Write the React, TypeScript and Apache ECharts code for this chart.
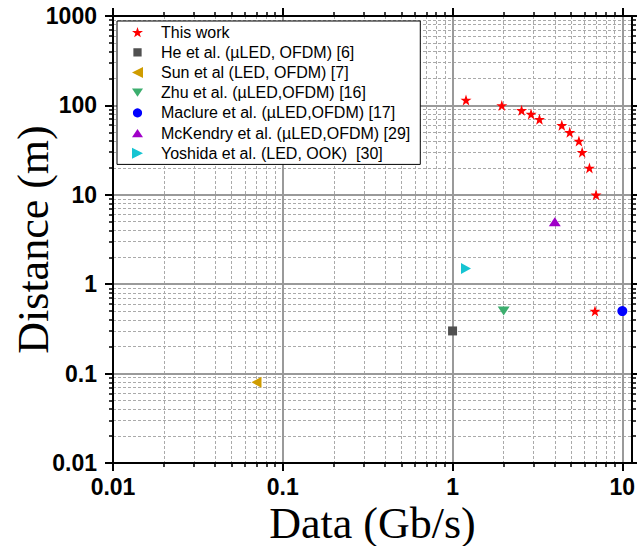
import React, { useEffect, useRef } from "react";
import * as echarts from "echarts";

// ---- data ----
const thisWorkX = [1.2, 1.95, 2.55, 2.9, 3.25, 4.4, 4.9, 5.55, 5.8, 6.4, 7.0, 6.9];
const thisWorkY = [115, 100, 88, 80, 70, 60, 50, 40, 30, 20, 10, 0.5];
const heX = [1.0];
const heY = [0.3];
const sunX = [0.07];
const sunY = [0.08];
const zhuX = [2.0];
const zhuY = [0.5];
const maclureX = [10.0];
const maclureY = [0.5];
const mckendryX = [4.0];
const mckendryY = [5.0];
const yoshidaX = [1.2];
const yoshidaY = [1.5];

const seriesNames = [
  "This work",
  "He et al. (\u00b5LED, OFDM) [6]",
  "Sun et al (LED, OFDM) [7]",
  "Zhu et al. (\u00b5LED,OFDM) [16]",
  "Maclure et al. (\u00b5LED,OFDM) [17]",
  "McKendry et al. (\u00b5LED,OFDM) [29]",
  "Yoshida et al. (LED, OOK)  [30]",
];

const xMajor = [0.01, 0.1, 1, 10];
const yMajor = [0.01, 0.1, 1, 10, 100, 1000];
const minorMultipliers = [2, 3, 4, 5, 6, 7, 8, 9];
const xMin = 0.01;
const xMax = 11.4;
const yMin = 0.01;
const yMax = 1000;

const xMinor: number[] = [];
xMajor.forEach((d) => minorMultipliers.forEach((m) => { const v = +(d * m).toPrecision(3); if (v < xMax) xMinor.push(v); }));
const yMinor: number[] = [];
yMajor.slice(0, -1).forEach((d) => minorMultipliers.forEach((m) => yMinor.push(+(d * m).toPrecision(3))));

const STAR = "path://M50,0 L61.8,35.1 L98.1,35.1 L68.8,56.7 L79.4,91 L50,70 L20.6,91 L31.2,56.7 L1.9,35.1 L38.2,35.1 Z";
const SQUARE = "path://M0,0 L10,0 L10,10 L0,10 Z";
const SQUARE_LEG = "path://M0,0 L0.01,0 Z M1.5,1.5 L10.5,1.5 L10.5,10.5 L1.5,10.5 Z M12,12 L11.99,12 Z";
const TRI_LEFT = "path://M0,5 L10,0 L10,10 Z";
const TRI_DOWN = "path://M0,0 L12,0 L6,9 Z";
const TRI_UP = "path://M6,0 L12,9 L0,9 Z";
const TRI_RIGHT = "path://M0,0 L10,5 L0,10 Z";
const CIRCLE_LEG = "path://M0,0 L0.01,0 Z M6,1 A5,5 0 1,1 5.99,1 Z M12,12 L11.99,12 Z";

const colors = ["#ff0000", "#505050", "#cf9c00", "#3cae6e", "#0000ff", "#a000c8", "#16c4d2"];
const symbols = [STAR, SQUARE, TRI_LEFT, TRI_DOWN, "circle", TRI_UP, TRI_RIGHT];
const legendIcons = [STAR, SQUARE_LEG, TRI_LEFT, TRI_DOWN, CIRCLE_LEG, TRI_UP, TRI_RIGHT];
const symbolSizes: any[] = [11, 9, [10, 11], [12, 9], 10, [12, 9], [10, 11]];
const xs = [thisWorkX, heX, sunX, zhuX, maclureX, mckendryX, yoshidaX];
const ys = [thisWorkY, heY, sunY, zhuY, maclureY, mckendryY, yoshidaY];

const fmt = (v: number) => String(+v.toPrecision(6));

export default function App() {
  const ref = useRef<HTMLDivElement>(null);
  useEffect(() => {
    if (!ref.current) return;
    const chart = echarts.init(ref.current, null, { renderer: "svg" });
    const axisLine = { show: true, onZero: false, lineStyle: { color: "#000", width: 2 } };
    const majorSplit = { show: true, lineStyle: { color: "#9a9a9a", width: 2, type: "solid" } };
    const minorSplit = { show: true, lineStyle: { color: "#aaaaaa", width: 1, type: [3, 2] } };
    const labelStyle = { fontFamily: "Liberation Sans", fontWeight: "bold", fontSize: 23, color: "#000" };
    const mkX = (pos: string, major: boolean, withLabel: boolean, split: boolean): any => ({
      type: "log",
      logBase: 10,
      position: pos,
      min: xMin,
      max: xMax,
      axisLine: major ? axisLine : { show: false },
      axisTick: {
        show: true,
        inside: false,
        customValues: major ? xMajor : xMinor,
        length: major ? 8 : 4,
        lineStyle: { color: "#000", width: major ? 2 : 1.5 },
      },
      axisLabel: withLabel
        ? { show: true, customValues: xMajor, margin: 12, formatter: fmt, ...labelStyle }
        : { show: false },
      splitLine: split ? (major ? majorSplit : minorSplit) : { show: false },
      minorTick: { show: false },
      minorSplitLine: { show: false },
      name: pos === "bottom" && major ? "Data (Gb/s)" : "",
      nameLocation: "middle",
      nameGap: 40,
      nameMoveOverlap: false,
      nameTextStyle: { fontFamily: "Liberation Serif", fontSize: 44, lineHeight: 40, color: "#000" },
      z: major ? 3 : 2,
    });
    const mkY = (pos: string, major: boolean, withLabel: boolean, split: boolean): any => ({
      type: "log",
      logBase: 10,
      position: pos,
      min: yMin,
      max: yMax,
      axisLine: major ? axisLine : { show: false },
      axisTick: {
        show: true,
        inside: false,
        customValues: major ? yMajor : yMinor,
        length: major ? 8 : 4,
        lineStyle: { color: "#000", width: major ? 2 : 1.5 },
      },
      axisLabel: withLabel
        ? { show: true, customValues: yMajor, margin: 16, formatter: fmt, ...labelStyle }
        : { show: false },
      splitLine: split ? (major ? majorSplit : minorSplit) : { show: false },
      minorTick: { show: false },
      minorSplitLine: { show: false },
      name: pos === "left" && major ? "Distance (m)" : "",
      nameLocation: "middle",
      nameGap: 60,
      nameMoveOverlap: false,
      nameTextStyle: { fontFamily: "Liberation Serif", fontSize: 44, lineHeight: 40, color: "#000" },
      z: major ? 3 : 2,
    });
    const series = seriesNames.map((name, i) => ({
      type: "scatter",
      name,
      xAxisIndex: 0,
      yAxisIndex: 0,
      symbol: symbols[i],
      symbolSize: symbolSizes[i],
      itemStyle: { color: colors[i], opacity: 1 },
      data: xs[i].map((x, j) => [x, ys[i][j]]),
      z: 5,
    }));
    chart.setOption({
      animation: false,
      backgroundColor: "#fff",
      grid: { left: 113, right: 5, top: 16, bottom: 83, containLabel: false, outerBoundsMode: "none" },
      xAxis: [
        mkX("bottom", true, true, true),
        mkX("bottom", false, false, true),
        mkX("top", true, false, false),
        mkX("top", false, false, false),
      ],
      yAxis: [
        mkY("left", true, true, true),
        mkY("left", false, false, true),
        mkY("right", true, false, false),
        mkY("right", false, false, false),
      ],
      legend: {
        orient: "vertical",
        left: 117,
        top: 21,
        padding: [1, 10, 1, 15],
        itemWidth: 11,
        itemHeight: 11,
        itemGap: 0,
        backgroundColor: "#fff",
        borderColor: "#000",
        borderWidth: 1,
        borderRadius: 0,
        selectedMode: false,
        textStyle: { fontFamily: "Liberation Sans", fontSize: 16, color: "#000", lineHeight: 20.2, padding: [0, 0, 0, 13] },
        data: seriesNames.map((n, i) => ({ name: n, icon: legendIcons[i], itemStyle: { color: colors[i] } })),
        z: 10,
      },
      series,
    });
    return () => chart.dispose();
  }, []);
  return (
    <div
      ref={ref}
      style={{ position: "fixed", left: 0, top: 0, width: 637, height: 546, background: "#fff" }}
    />
  );
}
